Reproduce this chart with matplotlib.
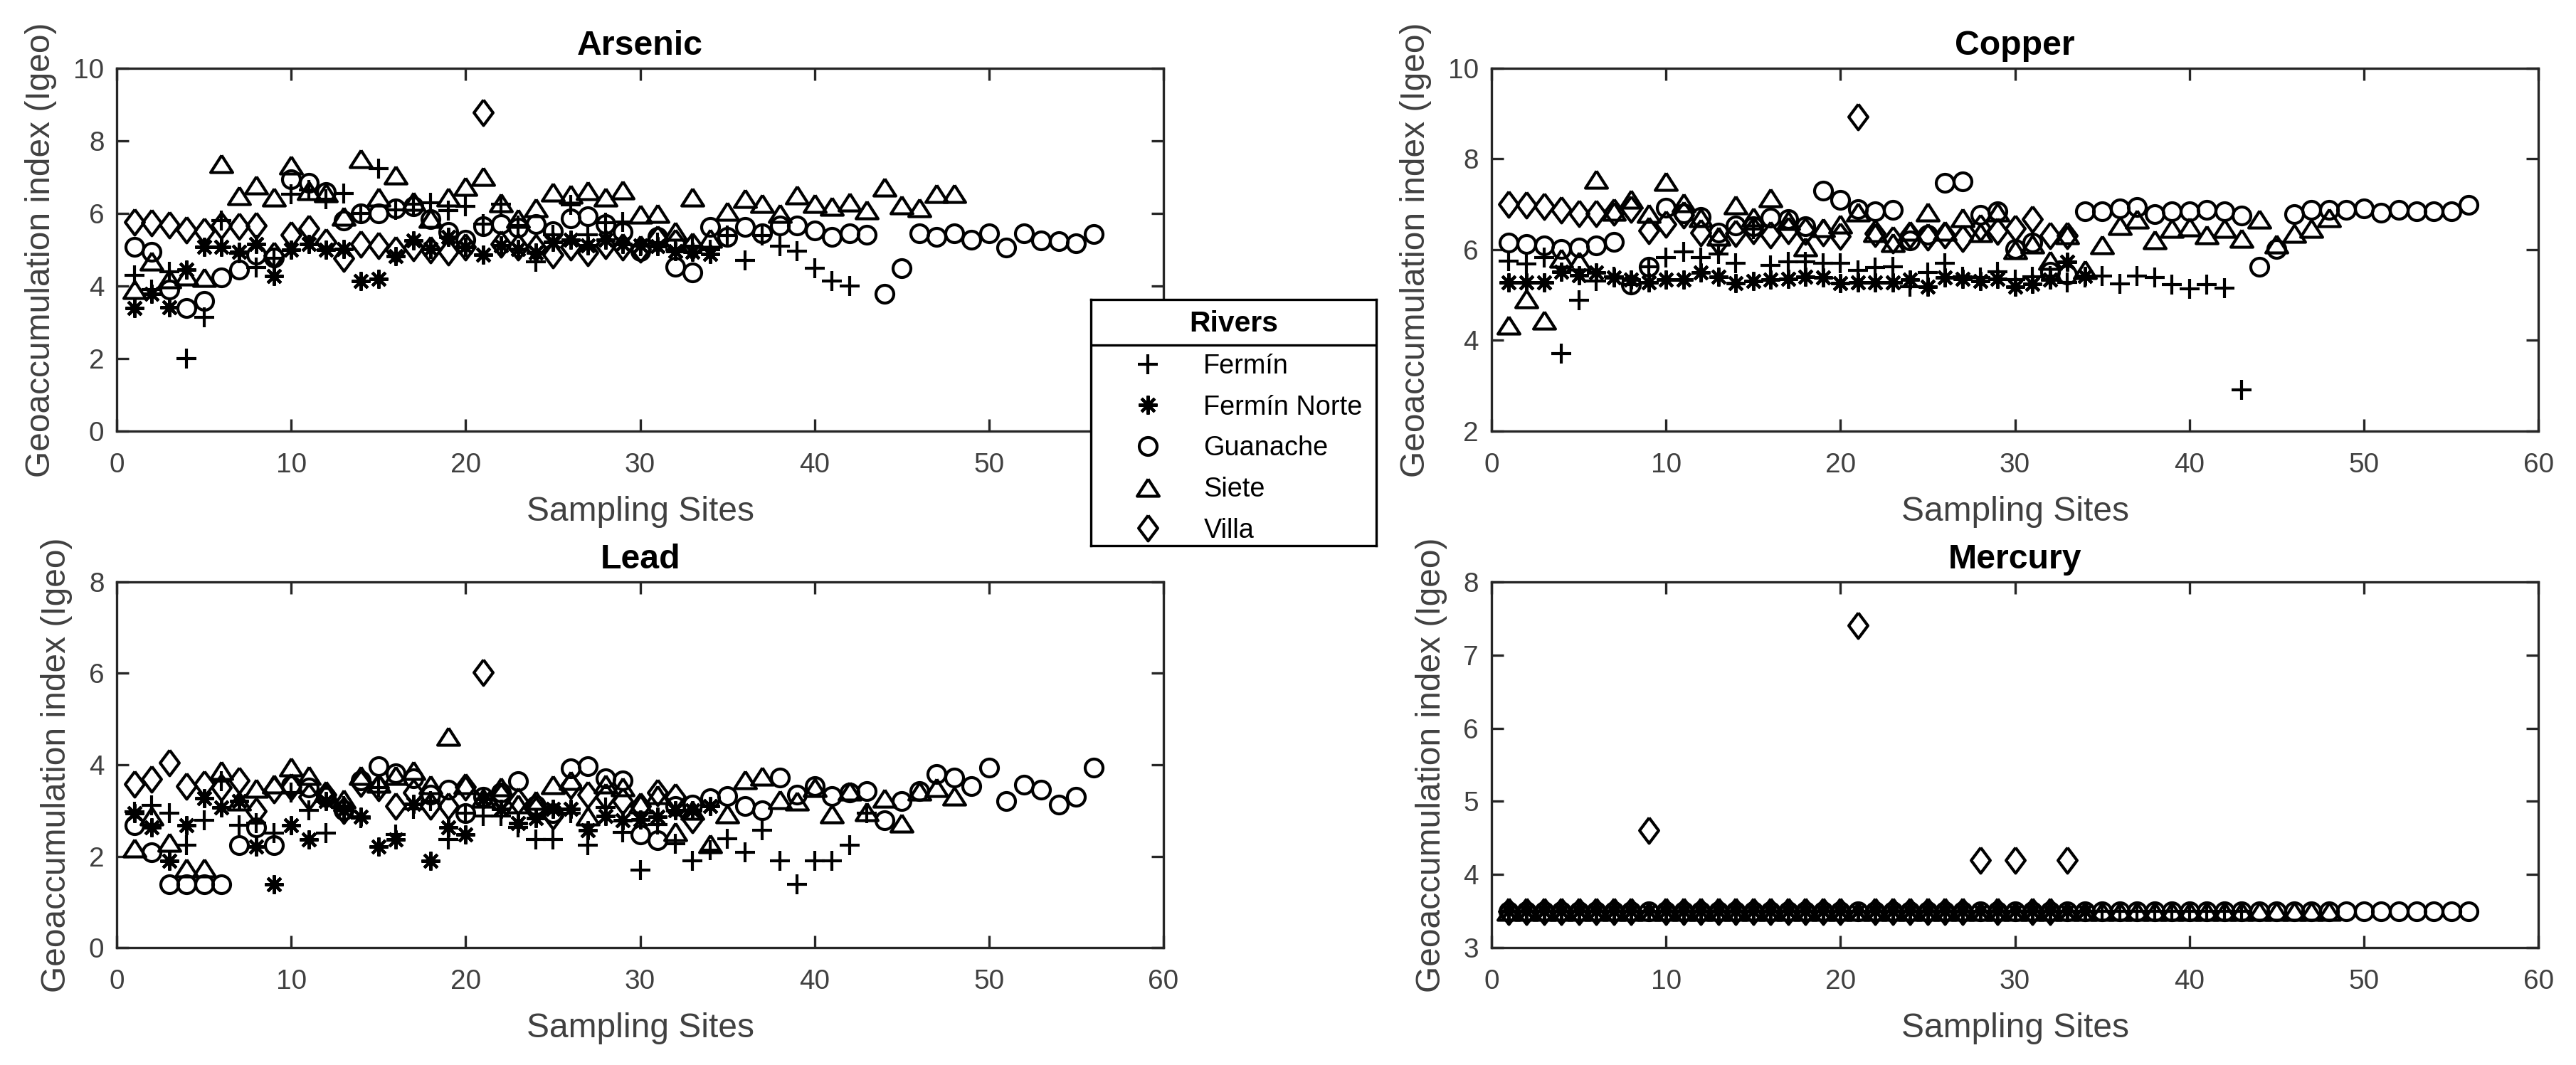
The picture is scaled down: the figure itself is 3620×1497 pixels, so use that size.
import numpy as np
import matplotlib
matplotlib.use("Agg")
import matplotlib.pyplot as plt
from matplotlib.lines import Line2D

plt.rcParams['font.family'] = ['Liberation Sans', 'DejaVu Sans']

rivers = ['Fermín', 'Fermín Norte', 'Guanache', 'Siete', 'Villa']

# ---- Arsenic ----
fermin_as = [4.3, 3.9, 4.4, 2.0, 3.14, 5.8, 4.9, 4.5, 4.76, 6.52, 6.65, 6.39, 6.55, 6.0, 7.24,
             6.1, 6.26, 6.29, 6.07, 6.2, 5.7, 6.26, 5.67, 4.66, 5.41, 6.23, 5.41, 5.74, 5.77, 5.1,
             5.2, 5.0, 5.1, 5.0, 5.4, 4.7, 5.4, 5.1, 4.97, 4.49, 4.14, 4.0]
fnorte_as = [3.39, 3.78, 3.42, 4.46, 5.08, 5.08, 4.95, 5.15, 4.27, 5.0, 5.15, 5.0, 5.02, 4.14, 4.2,
             4.82, 5.25, 5.02, 5.35, 5.08, 4.86, 5.12, 5.02, 4.92, 5.22, 5.28, 5.12, 5.28, 5.15, 5.12,
             5.1, 4.97, 4.95, 4.88]
guan_as = [5.08, 4.95, 3.9, 3.39, 3.58, 4.24, 4.46, 4.86, 4.79, 6.95, 6.85, 6.59, 5.8, 6.0, 6.0,
           6.13, 6.2, 5.84, 5.48, 5.28, 5.64, 5.71, 5.6, 5.71, 5.5, 5.87, 5.93, 5.7, 5.48, 4.97,
           5.36, 4.53, 4.37, 5.63, 5.36, 5.63, 5.45, 5.67, 5.66, 5.52, 5.36, 5.45, 5.41, 3.78, 4.49,
           5.45, 5.36, 5.45, 5.27, 5.45, 5.05, 5.45, 5.25, 5.24, 5.18, 5.43]
siete_as = [3.9, 4.69, 4.2, 4.27, 4.24, 7.38, 6.49, 6.78, 6.46, 7.33, 6.62, 6.56, 5.93, 7.5, 6.46,
            7.05, 6.33, 5.87, 6.46, 6.75, 7.01, 6.29, 5.87, 6.16, 6.59, 6.52, 6.62, 6.46, 6.65, 5.97,
            6.0, 5.5, 6.46, 5.32, 6.06, 6.41, 6.28, 6.0, 6.5, 6.28, 6.19, 6.32, 6.1, 6.72, 6.23,
            6.15, 6.54, 6.54]
villa_as = [5.77, 5.74, 5.69, 5.54, 5.51, 5.67, 5.64, 5.66, 4.85, 5.41, 5.58, 5.22, 4.76, 5.15, 5.12,
            4.99, 5.05, 4.99, 4.95, 5.08, 8.78, 5.15, 5.08, 5.05, 4.86, 5.08, 4.92, 5.12, 5.08, 5.02,
            5.3, 5.2, 5.1]

# ---- Copper ----
fermin_cu = [5.75, 5.68, 5.83, 3.71, 4.89, 5.31, 5.4, 5.23, 5.62, 5.83, 5.96, 5.83, 5.91, 5.7, 6.45,
             5.65, 5.73, 5.73, 5.7, 5.7, 5.55, 5.6, 5.62, 5.18, 5.49, 5.7, 5.4, 5.39, 5.52, 5.34,
             5.4, 5.42, 5.28, 5.39, 5.42, 5.25, 5.42, 5.39, 5.23, 5.13, 5.23, 5.15, 2.91]
fnorte_cu = [5.28, 5.28, 5.28, 5.52, 5.44, 5.49, 5.39, 5.34, 5.28, 5.34, 5.34, 5.49, 5.41, 5.26, 5.31,
             5.34, 5.36, 5.41, 5.39, 5.26, 5.28, 5.28, 5.28, 5.34, 5.18, 5.39, 5.36, 5.31, 5.36, 5.18,
             5.25, 5.34, 5.73, 5.42]
guan_cu = [6.15, 6.12, 6.09, 6.02, 6.04, 6.09, 6.17, 5.23, 5.62, 6.93, 6.8, 6.72, 6.38, 6.54, 6.51,
           6.7, 6.67, 6.51, 7.3, 7.09, 6.9, 6.85, 6.88, 6.2, 6.33, 7.48, 7.5, 6.77, 6.85, 6.01,
           6.15, 5.52, 5.45, 6.85, 6.85, 6.91, 6.94, 6.78, 6.85, 6.85, 6.88, 6.85, 6.75, 5.62, 6.01,
           6.78, 6.88, 6.88, 6.88, 6.91, 6.81, 6.88, 6.85, 6.85, 6.85, 6.99]
siete_cu = [4.34, 4.92, 4.45, 5.81, 5.75, 7.56, 6.85, 7.11, 6.8, 7.5, 7.04, 6.7, 6.3, 6.98, 6.72,
            7.14, 6.64, 6.07, 6.49, 6.56, 6.83, 6.38, 6.15, 6.41, 6.83, 6.41, 6.7, 6.38, 6.83, 6.0,
            6.13, 5.76, 6.33, 5.56, 6.11, 6.53, 6.67, 6.22, 6.47, 6.5, 6.33, 6.47, 6.25, 6.67, 6.13,
            6.36, 6.47, 6.7]
villa_cu = [7.01, 6.98, 6.96, 6.88, 6.8, 6.8, 6.83, 6.9, 6.43, 6.56, 6.77, 6.38, 6.17, 6.36, 6.43,
            6.33, 6.43, 6.4, 6.38, 6.3, 8.93, 6.36, 6.22, 6.33, 6.28, 6.33, 6.25, 6.49, 6.4, 6.47,
            6.67, 6.32, 6.32]

# ---- Lead ----
fermin_pb = [2.98, 3.12, 2.94, 2.24, 2.78, 3.64, 2.68, 2.73, 2.5, 3.4, 3.0, 2.5, 3.1, 2.83, 3.5,
             2.47, 3.04, 3.2, 2.37, 2.94, 2.88, 2.88, 2.63, 2.37, 2.37, 2.94, 2.24, 3.07, 2.52, 1.69,
             2.7, 2.27, 1.9, 2.13, 2.38, 2.09, 2.57, 1.9, 1.38, 1.9, 1.9, 2.24, 2.94]
fnorte_pb = [2.94, 2.63, 1.9, 2.68, 3.27, 3.07, 3.2, 2.21, 1.38, 2.68, 2.37, 3.2, 3.0, 2.86, 2.21,
             2.37, 3.14, 1.9, 2.63, 2.47, 3.25, 3.04, 2.73, 2.83, 3.04, 3.04, 2.57, 2.88, 2.78, 2.8,
             2.87, 3.0, 3.0, 3.1]
guan_pb = [2.68, 2.08, 1.38, 1.38, 1.38, 1.38, 2.24, 2.63, 2.24, 3.55, 3.5, 3.3, 3.0, 3.66, 3.97,
           3.82, 3.71, 3.35, 3.46, 2.94, 3.3, 3.4, 3.64, 3.12, 2.94, 3.92, 3.97, 3.71, 3.66, 2.47,
           2.35, 3.1, 3.13, 3.27, 3.31, 3.09, 3.01, 3.72, 3.35, 3.53, 3.31, 3.39, 3.42, 2.79, 3.2,
           3.42, 3.79, 3.72, 3.53, 3.94, 3.2, 3.57, 3.45, 3.13, 3.3, 3.93]
siete_pb = [2.18, 2.88, 2.31, 1.74, 1.74, 3.87, 3.2, 3.48, 3.58, 3.95, 3.77, 3.4, 3.25, 3.77, 3.6,
            3.77, 3.87, 3.56, 4.62, 3.56, 3.27, 3.51, 3.14, 3.22, 3.56, 3.66, 2.88, 3.58, 3.51, 3.14,
            3.35, 2.53, 3.0, 2.27, 2.92, 3.67, 3.75, 3.23, 3.2, 3.5, 2.92, 3.42, 2.98, 3.27, 2.72,
            3.42, 3.5, 3.31]
villa_pb = [3.58, 3.69, 4.05, 3.53, 3.58, 3.5, 3.66, 2.99, 3.46, 3.51, 3.3, 3.35, 3.0, 3.6, 3.5,
            3.09, 3.4, 3.09, 3.09, 3.51, 6.02, 3.3, 3.2, 3.0, 2.88, 3.55, 3.35, 3.3, 3.2, 3.1,
            3.4, 3.3, 2.8]

# ---- Mercury ----
fermin_hg = [3.5, 3.5, 3.5, 3.5, 3.5, 3.5, 3.5, 3.5, 3.5, 3.5, 3.5, 3.5, 3.5, 3.5, 3.5,
             3.5, 3.5, 3.5, 3.5, 3.5, 3.5, 3.5, 3.5, 3.5, 3.5, 3.5, 3.5, 3.5, 3.5, 3.5,
             3.5, 3.5, 3.5, 3.5, 3.5, 3.5, 3.5, 3.5, 3.5, 3.5, 3.5, 3.5, 3.5]
fnorte_hg = [3.5, 3.5, 3.5, 3.5, 3.5, 3.5, 3.5, 3.5, 3.5, 3.5, 3.5, 3.5, 3.5, 3.5, 3.5,
             3.5, 3.5, 3.5, 3.5, 3.5, 3.5, 3.5, 3.5, 3.5, 3.5, 3.5, 3.5, 3.5, 3.5, 3.5,
             3.5, 3.5, 3.5, 3.5]
guan_hg = [3.5, 3.5, 3.5, 3.5, 3.5, 3.5, 3.5, 3.5, 3.5, 3.5, 3.5, 3.5, 3.5, 3.5, 3.5,
           3.5, 3.5, 3.5, 3.5, 3.5, 3.5, 3.5, 3.5, 3.5, 3.5, 3.5, 3.5, 3.5, 3.5, 3.5,
           3.5, 3.5, 3.5, 3.5, 3.5, 3.5, 3.5, 3.5, 3.5, 3.5, 3.5, 3.5, 3.5, 3.5, 3.5,
           3.5, 3.5, 3.5, 3.5, 3.5, 3.5, 3.5, 3.5, 3.5, 3.5, 3.5]
siete_hg = [3.5, 3.5, 3.5, 3.5, 3.5, 3.5, 3.5, 3.5, 3.5, 3.5, 3.5, 3.5, 3.5, 3.5, 3.5,
            3.5, 3.5, 3.5, 3.5, 3.5, 3.5, 3.5, 3.5, 3.5, 3.5, 3.5, 3.5, 3.5, 3.5, 3.5,
            3.5, 3.5, 3.5, 3.5, 3.5, 3.5, 3.5, 3.5, 3.5, 3.5, 3.5, 3.5, 3.5, 3.5, 3.5,
            3.5, 3.5, 3.5]
villa_hg = [3.5, 3.5, 3.5, 3.5, 3.5, 3.5, 3.5, 3.5, 4.61, 3.5, 3.5, 3.5, 3.5, 3.5, 3.5,
            3.5, 3.5, 3.5, 3.5, 3.5, 7.41, 3.5, 3.5, 3.5, 3.5, 3.5, 3.5, 4.2, 3.5, 4.2,
            3.5, 3.5, 4.2]

panels = [
    ('Arsenic', [fermin_as, fnorte_as, guan_as, siete_as, villa_as], (0, 10), [0, 2, 4, 6, 8, 10]),
    ('Copper', [fermin_cu, fnorte_cu, guan_cu, siete_cu, villa_cu], (2, 10), [2, 4, 6, 8, 10]),
    ('Lead', [fermin_pb, fnorte_pb, guan_pb, siete_pb, villa_pb], (0, 8), [0, 2, 4, 6, 8]),
    ('Mercury', [fermin_hg, fnorte_hg, guan_hg, siete_hg, villa_hg], (3, 8), [3, 4, 5, 6, 7, 8]),
]

# MATLAB-like markers
tri = [(0, 0.78), (1, -0.78), (-1, -0.78), (0, 0.78)]
dia = [(0, 1), (0.75, 0), (0, -1), (-0.75, 0), (0, 1)]
styles = [dict(marker='+', ms=6.5),
          dict(marker=(8, 2, 0), ms=6.3),
          dict(marker='o', ms=6.0),
          dict(marker=tri, ms=7.4),
          dict(marker=dia, ms=8.6)]

axcol = '#262626'
txtcol = '#404040'

fig = plt.figure(figsize=(3620 / 300, 1497 / 300), dpi=300)
rects = [[0.0454, 0.5952, 0.4062, 0.3407],
         [0.5790, 0.5952, 0.4064, 0.3407],
         [0.0454, 0.1102, 0.4062, 0.3434],
         [0.5790, 0.1102, 0.4064, 0.3434]]

handles = []
for (title, series, ylim, yticks), r in zip(panels, rects):
    ax = fig.add_axes(r)
    for vals, st, name in zip(series, styles, rivers):
        x = np.arange(1, len(vals) + 1)
        h, = ax.plot(x, vals, linestyle='none', color='black', mfc='none', mec='black',
                     mew=1.0, label=name, **st)
        if title == 'Arsenic':
            handles.append(h)
    ax.set_xlim(0, 60)
    ax.set_ylim(*ylim)
    ax.set_xticks([0, 10, 20, 30, 40, 50, 60])
    ax.set_yticks(yticks)
    ax.tick_params(direction='in', length=4, width=0.8, top=True, right=True,
                   colors=axcol, labelcolor=txtcol, labelsize=9.3)
    ax.tick_params(axis='x', pad=7.3)
    ax.tick_params(axis='y', pad=4.3)
    for s in ax.spines.values():
        s.set_color(axcol)
        s.set_linewidth(0.8)
    ax.set_title(title, fontsize=11.6, fontweight='bold', color='black', pad=4.5)
    ax.set_xlabel('Sampling Sites', fontsize=11.5, color=txtcol, labelpad=5.8)
    ax.set_ylabel('Geoaccumulation index (Igeo)', fontsize=11.5, color=txtcol, labelpad=5.5)

# legend box with title separator
lax = fig.add_axes([0.4235, 0.4876, 0.1108, 0.2312])
lax.set_xticks([])
lax.set_yticks([])
lax.set_facecolor('white')
for s in lax.spines.values():
    s.set_color('black')
    s.set_linewidth(0.8)
lax.add_line(Line2D([0, 1], [0.815, 0.815], color='black', lw=0.8, transform=lax.transAxes))
lax.text(0.5, 0.903, 'Rivers', transform=lax.transAxes, ha='center', va='center',
         fontsize=9.8, fontweight='bold', color='black')
lax.legend(handles, rivers, loc='upper left', bbox_to_anchor=(0.1035, 0.78),
           bbox_transform=lax.transAxes, frameon=False, fontsize=9.1, handlelength=2,
           handletextpad=1.08, labelspacing=0.57, borderaxespad=0, borderpad=0,
           labelcolor='black')

fig.savefig('out.png', dpi=300)
